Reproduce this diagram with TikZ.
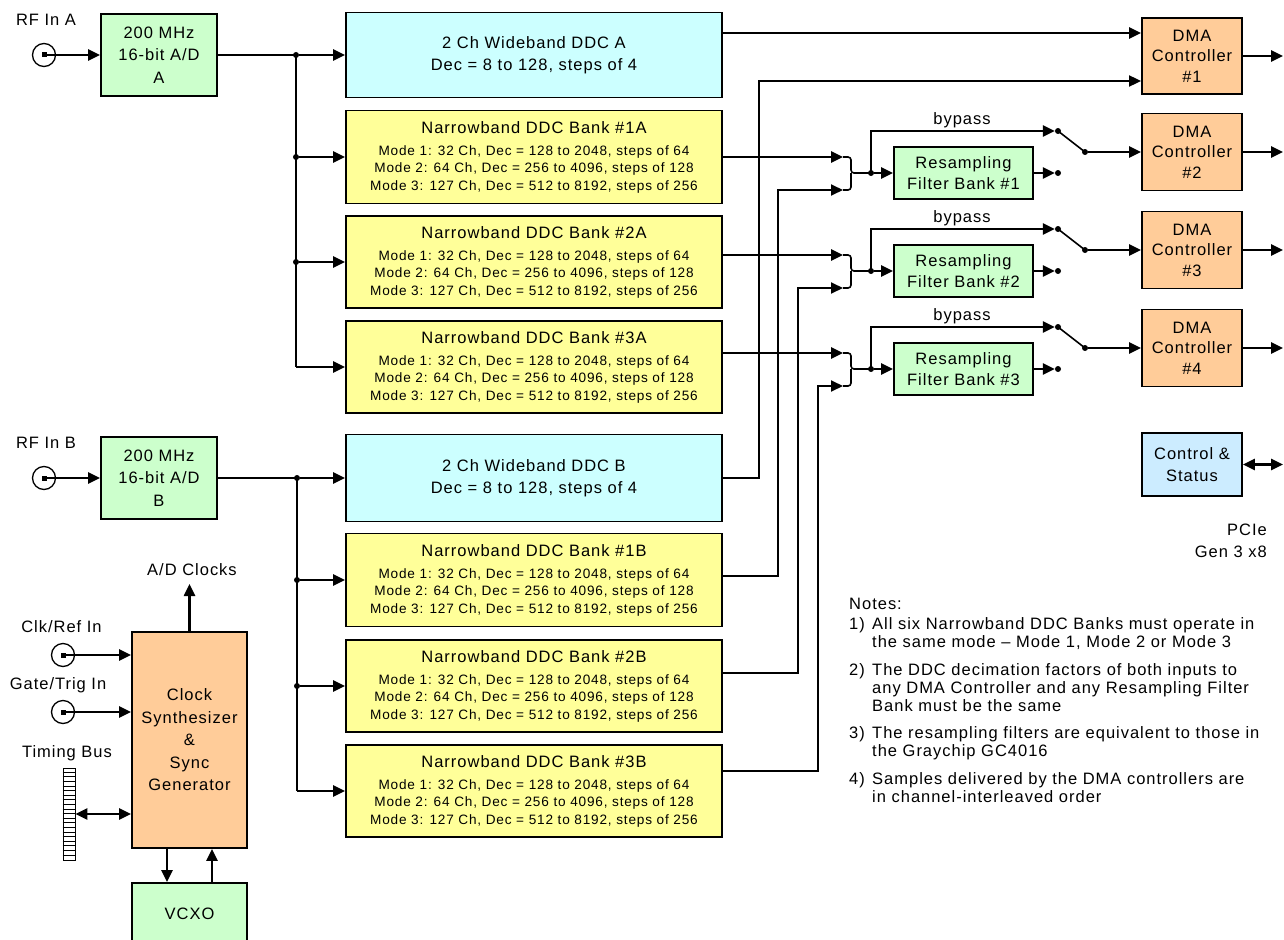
\documentclass[tikz,border=0pt]{standalone}
\usepackage{fontspec}
\setmainfont{Liberation Sans}[LetterSpace=6]
\usepackage{tikz}
\usetikzlibrary{arrows.meta}

\definecolor{adcgreen}{RGB}{204,255,204}
\definecolor{wbcyan}{RGB}{204,255,255}
\definecolor{nbyellow}{RGB}{255,255,153}
\definecolor{dmaorange}{RGB}{255,204,153}
\definecolor{csblue}{RGB}{204,236,255}

\newcommand{\boxfont}{\fontsize{16.5}{22.5}\selectfont}
\newcommand{\dmafont}{\fontsize{16.5}{20.5}\selectfont}
\newcommand{\modefont}{\fontsize{13.6}{17.5}\selectfont}
\newcommand{\notefont}{\fontsize{16.5}{18}\selectfont}
\newcommand{\nbtext}[1]{{\boxfont Narrowband DDC Bank \##1}\\[4.5pt]Mode 1: 32 Ch, Dec = 128 to 2048, steps of 64\\Mode 2: 64 Ch, Dec = 256 to 4096, steps of 128\\Mode 3: 127 Ch, Dec = 512 to 8192, steps of 256}
\newcommand{\noteitem}[2]{\makebox[23pt][l]{#1}\begin{tabular}[t]{@{}l@{}}#2\end{tabular}}

\begin{document}
\begin{tikzpicture}[x=1pt, y=-1pt,
        blk/.style={draw, line width=1.8pt, inner sep=0pt, align=center, font=\boxfont},
        dot/.style={shape=circle, fill=black, inner sep=0pt, minimum size=6pt},
        sig/.style={line width=2.5pt, -{Triangle[length=12pt,width=11pt]}},
        route/.style={line width=1.8pt, -{Triangle[length=12pt,width=11pt]}},
        bus/.style={line width=2.5pt},
        brace/.style={line width=1.6pt, rounded corners=3pt},
        dbl/.style={line width=2.5pt, {Triangle[length=12pt,width=11pt]}-{Triangle[length=12pt,width=11pt]}},
        jack/.style={shape=circle, draw, line width=1.3pt, minimum size=23pt, inner sep=0pt,
            path picture={\fill ([xshift=-2.5pt,yshift=-2.5pt]path picture bounding box.center) rectangle ([xshift=2.5pt,yshift=2.5pt]path picture bounding box.center);}},
        lbl/.style={font=\boxfont, inner sep=0pt}]
        \clip (0,0) rectangle (1284,939);

        % channel A
        \node[lbl] (lblA) at (46,20) {RF In A};
        \node[jack] (rfA) at (44,55) {};
        \node[blk, fill=adcgreen, minimum width=116pt, minimum height=82pt] (adcA) at (159,55) {200 MHz\\16-bit A/D\\A};
        \node[dot] (busA0) at (296,55) {};
        \node[dot] (busA1) at (296,157) {};
        \node[dot] (busA2) at (296,262) {};
        \coordinate (busA3) at (296,367);
        \node[blk, fill=wbcyan, minimum width=376pt, minimum height=85pt] (wddcA) at (534,55) {2 Ch Wideband DDC A\\Dec = 8 to 128, steps of 4};
        \node[blk, fill=nbyellow, minimum width=376pt, minimum height=93pt, font=\modefont] (nb1A) at (534,157) {\nbtext{1A}};
        \node[blk, fill=nbyellow, minimum width=376pt, minimum height=92pt, font=\modefont] (nb2A) at (534,262) {\nbtext{2A}};
        \node[blk, fill=nbyellow, minimum width=376pt, minimum height=92pt, font=\modefont] (nb3A) at (534,367) {\nbtext{3A}};

        \draw[sig] (rfA.center) -- (adcA);
        \draw[bus] (adcA) -- (busA0.center) -- (busA3);
        \draw[sig] (busA0) -- (wddcA);
        \draw[sig] (busA1) -- (nb1A);
        \draw[sig] (busA2) -- (nb2A);
        \draw[sig] (busA3) -- (nb3A);

        % channel B
        \node[lbl] (lblB) at (46,443) {RF In B};
        \node[jack] (rfB) at (44,478) {};
        \node[blk, fill=adcgreen, minimum width=116pt, minimum height=82pt] (adcB) at (159,478) {200 MHz\\16-bit A/D\\B};
        \node[dot] (busB0) at (297,478) {};
        \node[dot] (busB1) at (297,580) {};
        \node[dot] (busB2) at (297,686) {};
        \coordinate (busB3) at (297,791);
        \node[blk, fill=wbcyan, minimum width=376pt, minimum height=87pt] (wddcB) at (534,478) {2 Ch Wideband DDC B\\Dec = 8 to 128, steps of 4};
        \node[blk, fill=nbyellow, minimum width=376pt, minimum height=93pt, font=\modefont] (nb1B) at (534,580) {\nbtext{1B}};
        \node[blk, fill=nbyellow, minimum width=376pt, minimum height=92pt, font=\modefont] (nb2B) at (534,686) {\nbtext{2B}};
        \node[blk, fill=nbyellow, minimum width=376pt, minimum height=92pt, font=\modefont] (nb3B) at (534,791) {\nbtext{3B}};

        \draw[sig] (rfB.center) -- (adcB);
        \draw[bus] (adcB) -- (busB0.center) -- (busB3);
        \draw[sig] (busB0) -- (wddcB);
        \draw[sig] (busB1) -- (nb1B);
        \draw[sig] (busB2) -- (nb2B);
        \draw[sig] (busB3) -- (nb3B);

        % resampling and DMA
        \coordinate (edge) at (1283,0);
        \node[blk, fill=dmaorange, minimum width=100pt, minimum height=76pt, font=\dmafont] (dma1) at (1192,56) {DMA\\Controller\\\#1};
        \node[blk, fill=dmaorange, minimum width=100pt, minimum height=77pt, font=\dmafont] (dma2) at (1192,152) {DMA\\Controller\\\#2};
        \node[blk, fill=dmaorange, minimum width=100pt, minimum height=77pt, font=\dmafont] (dma3) at (1192,250) {DMA\\Controller\\\#3};
        \node[blk, fill=dmaorange, minimum width=100pt, minimum height=77pt, font=\dmafont] (dma4) at (1192,348) {DMA\\Controller\\\#4};
        \node[blk, fill=adcgreen, minimum width=139pt, minimum height=52pt, font=\dmafont] (rfb1) at (963.5,173) {Resampling\\Filter Bank \#1};
        \node[blk, fill=adcgreen, minimum width=139pt, minimum height=52pt, font=\dmafont] (rfb2) at (963.5,271) {Resampling\\Filter Bank \#2};
        \node[blk, fill=adcgreen, minimum width=139pt, minimum height=52pt, font=\dmafont] (rfb3) at (963.5,369) {Resampling\\Filter Bank \#3};
        \node[lbl] (bp1) at (962,120) {bypass};
        \node[lbl] (bp2) at (962,218) {bypass};
        \node[lbl] (bp3) at (962,316) {bypass};

        \node[dot] (jn1) at (871,173) {};
        \node[dot] (jn2) at (871,271) {};
        \node[dot] (jn3) at (871,369) {};
        \node[dot] (sa1) at (1058,131) {};
        \node[dot] (sa2) at (1058,229) {};
        \node[dot] (sa3) at (1058,327) {};
        \node[dot] (sb1) at (1085,152) {};
        \node[dot] (sb2) at (1085,250) {};
        \node[dot] (sb3) at (1085,348) {};
        \node[dot] (sc1) at (1058,173) {};
        \node[dot] (sc2) at (1058,271) {};
        \node[dot] (sc3) at (1058,369) {};
        \coordinate (inA1) at (843,157);
        \coordinate (inA2) at (843,255);
        \coordinate (inA3) at (843,353);
        \coordinate (inB1) at (843,190);
        \coordinate (inB2) at (843,288);
        \coordinate (inB3) at (843,386);
        \coordinate (bk1) at (851,173);
        \coordinate (bk2) at (851,271);
        \coordinate (bk3) at (851,369);
        \coordinate (vW) at (759,478);
        \coordinate (vB1) at (778,576);
        \coordinate (vB2) at (798,673);
        \coordinate (vB3) at (818,771);

        \draw[sig] ([yshift=22pt]wddcA.east) -- ([yshift=23pt]dma1.west);
        \draw[route] (wddcB) -- (vW) |- ([yshift=-25pt]dma1.west);
        \draw[sig] (nb1A.east |- inA1) -- (inA1);
        \draw[sig] (nb2A.east |- inA2) -- (inA2);
        \draw[sig] (nb3A.east |- inA3) -- (inA3);
        \draw[route] (nb1B.east |- vB1) -- (vB1) |- (inB1);
        \draw[route] (nb2B.east |- vB2) -- (vB2) |- (inB2);
        \draw[route] (nb3B.east |- vB3) -- (vB3) |- (inB3);

        \draw[brace] (inA1) -| (bk1) -- (jn1.center);
        \draw[brace] (inB1) -| (bk1);
        \draw[brace] (inA2) -| (bk2) -- (jn2.center);
        \draw[brace] (inB2) -| (bk2);
        \draw[brace] (inA3) -| (bk3) -- (jn3.center);
        \draw[brace] (inB3) -| (bk3);

        \draw[sig] (jn1) -- (rfb1);
        \draw[sig] (jn2) -- (rfb2);
        \draw[sig] (jn3) -- (rfb3);
        \draw[sig] (jn1.center) |- (sa1);
        \draw[sig] (jn2.center) |- (sa2);
        \draw[sig] (jn3.center) |- (sa3);
        \draw[sig] (rfb1) -- (sc1);
        \draw[sig] (rfb2) -- (sc2);
        \draw[sig] (rfb3) -- (sc3);
        \draw[line width=1.6pt] (sa1.center) -- (sb1.center);
        \draw[line width=1.6pt] (sa2.center) -- (sb2.center);
        \draw[line width=1.6pt] (sa3.center) -- (sb3.center);
        \draw[sig] (sb1) -- (dma2);
        \draw[sig] (sb2) -- (dma3);
        \draw[sig] (sb3) -- (dma4);

        \draw[sig] (dma1) -- (dma1 -| edge);
        \draw[sig] (dma2) -- (dma2 -| edge);
        \draw[sig] (dma3) -- (dma3 -| edge);
        \draw[sig] (dma4) -- (dma4 -| edge);

        \node[blk, fill=csblue, minimum width=100pt, minimum height=63pt] (cs) at (1192,464.5) {Control \&\\Status};
        \draw[dbl] (cs) -- (cs -| edge);
        \node[lbl, align=right, anchor=east] (pcie) at (1267,541) {PCIe\\Gen 3 x8};

        % clocks
        \node[lbl] (lblRef) at (61.5,627) {Clk/Ref In};
        \node[jack] (ckRef) at (63,655) {};
        \node[lbl] (lblTrig) at (58,685) {Gate/Trig In};
        \node[jack] (ckTrig) at (63,712) {};
        \node[lbl] (lblBus) at (67,753) {Timing Bus};
        \node[draw, line width=0.9pt, fill=white, minimum width=12pt, minimum height=92pt, inner sep=0pt] (tbus) at (69,814) {};
        \foreach \k in {1,...,19}
            \draw[line width=0.6pt] ([yshift=-\k*4.6pt]tbus.north west) -- ([yshift=-\k*4.6pt]tbus.north east);
        \node[blk, fill=dmaorange, minimum width=115pt, minimum height=216pt] (clk) at (189.5,740) {Clock\\Synthesizer\\\&\\Sync\\Generator};
        \node[blk, fill=adcgreen, minimum width=115pt, minimum height=62pt] (vcxo) at (189.5,914) {VCXO};
        \coordinate (adclk) at (189.5,584);
        \node[lbl] (lblClk) at (192,570) {A/D Clocks};

        \draw[sig] (clk) -- (adclk);
        \draw[sig] (ckRef.center) -- (ckRef.center -| clk.west);
        \draw[sig] (ckTrig.center) -- (ckTrig.center -| clk.west);
        \draw[dbl] (tbus) -- (tbus -| clk.west);
        \draw[sig] ([xshift=-22.5pt]clk.south) -- ([xshift=-22.5pt]vcxo.north);
        \draw[sig] ([xshift=22.5pt]vcxo.north) -- ([xshift=22.5pt]clk.south);

        % notes
        \node[lbl, anchor=base west] (notes) at (849,609) {Notes:};
        \node[lbl, anchor=base west, font=\notefont] (note1) at (849,629) {\noteitem{1)}{All six Narrowband DDC Banks must operate in\\the same mode – Mode 1, Mode 2 or Mode 3}};
        \node[lbl, anchor=base west, font=\notefont] (note2) at (849,675) {\noteitem{2)}{The DDC decimation factors of both inputs to\\any DMA Controller and any Resampling Filter\\Bank must be the same}};
        \node[lbl, anchor=base west, font=\notefont] (note3) at (849,738) {\noteitem{3)}{The resampling filters are equivalent to those in\\the Graychip GC4016}};
        \node[lbl, anchor=base west, font=\notefont] (note4) at (849,784) {\noteitem{4)}{Samples delivered by the DMA controllers are\\in channel-interleaved order}};
    \end{tikzpicture}
\end{document}
